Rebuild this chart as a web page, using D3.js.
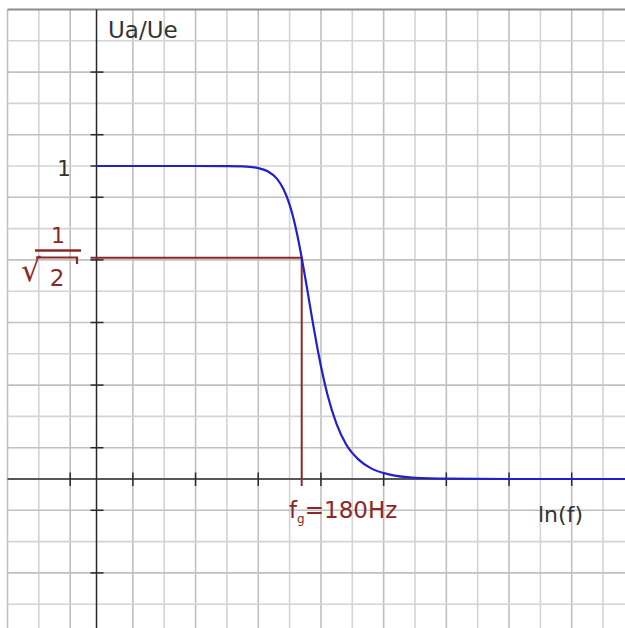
<!DOCTYPE html>
<html>
<head>
<meta charset="utf-8">
<script src="https://cdn.jsdelivr.net/npm/d3@7"></script>
<style>
  html, body { margin: 0; padding: 0; background: #fff; }
  svg { display: block; font-family: "DejaVu Sans", sans-serif; }
</style>
</head>
<body>
<svg id="chart" width="625" height="628"></svg>
<script>
// Low-pass magnitude response |Ua/Ue| over ln(f)
const lnF  = [1.92, 3.0, 4.0, 4.25, 4.5, 4.65, 4.8, 4.9, 5.0, 5.05, 5.1, 5.15, 5.193, 5.25, 5.3, 5.35, 5.4, 5.45, 5.5, 5.6, 5.75, 5.9, 6.1, 6.3, 6.6, 7.0, 7.5, 8.5, 10.35];
const gain = [1.0, 1.0, 0.9997, 0.9986, 0.9933, 0.9832, 0.959, 0.9275, 0.8764, 0.8416, 0.8002, 0.7525, 0.7071, 0.6423, 0.5831, 0.5237, 0.4659, 0.411, 0.3601, 0.2725, 0.1751, 0.111, 0.062, 0.034, 0.014, 0.004, 0.001, 0, 0];

// Cut-off frequency marker
const cutoffHz = 180;
const cutoffGain = [1 / Math.SQRT2];

// Axis ticks (ln f units and gain units)
const xTicks = [1.5, 2.5, 3.5, 4.5, 5.5, 6.5, 7.5, 8.5, 9.5];
const yTicks = [1.3, 1.1, 1.0, 0.9, 0.7, 0.5, 0.3, 0.1, -0.1, -0.3];
const yTickLabels = ["1"];
const axisTitles = ["Ua/Ue", "ln(f)"];

const W = 625, H = 628;
const svg = d3.select("#chart");

const x = d3.scaleLinear().domain([0.5, 10.35]).range([7.5, 625]);
const y = d3.scaleLinear().domain([0, 1]).range([479, 166]);

const RED = "#8a2828", BLUE = "#2020cc", INK = "#2a2a2a", TXT = "#333";

// grid: half-unit cells in x, tenth cells in y
const gx = d3.range(0, 20).map(k => 0.5 + 0.5 * k).filter(v => Math.abs(v - 2) > 1e-6);
const gy = d3.range(-4, 15).map(k => k / 10);

const grid = svg.append("g");
grid.selectAll("line.v").data(gx).join("line")
  .attr("x1", d => x(d)).attr("x2", d => x(d))
  .attr("y1", y(1.5)).attr("y2", H)
  .attr("stroke", d => (Math.round(d * 2) % 2 === 1 ? "#c0c0c0" : "#d4d4d4"))
  .attr("stroke-width", 1.6);
grid.selectAll("line.h").data(gy).join("line")
  .attr("x1", x(0.5)).attr("x2", W)
  .attr("y1", d => y(d)).attr("y2", d => y(d))
  .attr("stroke", d => (Math.round(d * 10) % 2 !== 0 ? "#c0c0c0" : "#d4d4d4"))
  .attr("stroke-width", 1.6);
// top border
grid.append("line")
  .attr("x1", x(0.5)).attr("x2", W).attr("y1", y(1.5)).attr("y2", y(1.5))
  .attr("stroke", "#8c8c8c").attr("stroke-width", 2);

// axes
const yAxisX = x(1.92);
const axes = svg.append("g").attr("stroke", INK).attr("stroke-width", 1.5);
axes.append("line").attr("x1", yAxisX).attr("x2", yAxisX).attr("y1", y(1.5)).attr("y2", H);
axes.append("line").attr("x1", x(0.5)).attr("x2", W).attr("y1", y(0)).attr("y2", y(0));

axes.selectAll("line.xt").data(xTicks).join("line")
  .attr("x1", d => x(d)).attr("x2", d => x(d))
  .attr("y1", y(0) - 6.5).attr("y2", y(0) + 7);
axes.selectAll("line.yt").data(yTicks).join("line")
  .attr("x1", yAxisX - 6).attr("x2", yAxisX + 7)
  .attr("y1", d => y(d)).attr("y2", d => y(d));

// cut-off guide lines
const fgX = x(Math.log(cutoffHz));
svg.append("path")
  .attr("d", `M${yAxisX - 6},${y(cutoffGain[0])}H${fgX}V${y(0) + 7}`)
  .attr("fill", "none").attr("stroke", RED).attr("stroke-width", 2);

// response curve
const pts = lnF.map((v, i) => [v, gain[i]]);
svg.append("path")
  .datum(pts)
  .attr("d", d3.line().x(d => x(d[0])).y(d => y(d[1])).curve(d3.curveMonotoneX))
  .attr("fill", "none").attr("stroke", BLUE).attr("stroke-width", 2.2);

// labels
svg.append("text").attr("x", 108).attr("y", 38)
  .attr("font-size", 23).attr("fill", TXT).text(axisTitles[0]);
svg.append("text").attr("x", 538).attr("y", 522)
  .attr("font-size", 22).attr("fill", TXT).text(axisTitles[1]);
svg.append("text").attr("x", 64).attr("y", 176).attr("text-anchor", "middle")
  .attr("font-size", 22).attr("fill", TXT).text(yTickLabels[0]);

// 1/√2 label
const frac = svg.append("g").attr("fill", RED);
frac.append("text").attr("x", 58).attr("y", 243).attr("text-anchor", "middle")
  .attr("font-size", 22).text("1");
frac.append("line").attr("x1", 35).attr("x2", 81).attr("y1", 250.5).attr("y2", 250.5)
  .attr("stroke", RED).attr("stroke-width", 2.4);
frac.append("text").attr("x", 21).attr("y", 281).attr("font-size", 31).text("√");
frac.append("path").attr("d", "M36,257.5H77V264")
  .attr("fill", "none").attr("stroke", RED).attr("stroke-width", 2.2);
frac.append("text").attr("x", 57).attr("y", 286).attr("text-anchor", "middle")
  .attr("font-size", 23).text("2");

// f_g = 180Hz label
const fl = svg.append("text").attr("x", 289).attr("y", 518)
  .attr("font-size", 23).attr("fill", RED);
fl.append("tspan").text("f");
fl.append("tspan").attr("font-size", 12).attr("dy", 5).text("g");
fl.append("tspan").attr("dy", -5).text("=" + cutoffHz + "Hz");
</script>
</body>
</html>
